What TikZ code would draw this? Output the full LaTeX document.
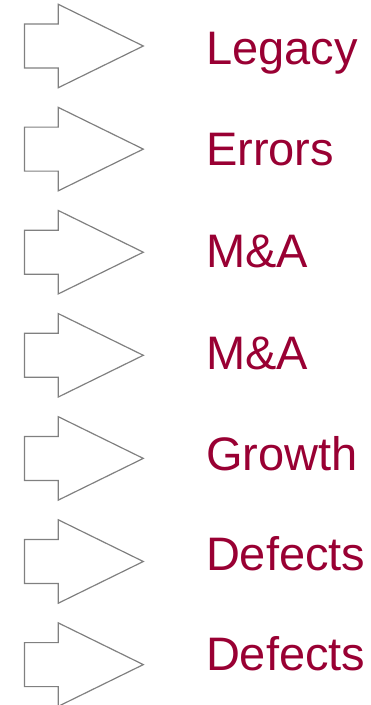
\documentclass[tikz,border=0pt]{standalone}
\usepackage{fontspec}
\setmainfont{Liberation Sans}
\definecolor{wine}{RGB}{153,0,51}
\definecolor{arrgray}{RGB}{128,128,128}
\begin{document}
\begin{tikzpicture}[x=1pt,y=-1pt,
  label/.style={anchor=base west,inner sep=0pt,text=wine,font=\fontsize{47}{50}\selectfont},
  bigarrow/.style={draw=arrgray,line width=1.2pt,line join=miter}]
\useasboundingbox (0,0) rectangle (370,705);
\foreach \i in {0,...,6}{
  \pgfmathsetmacro{\c}{46+103.1*\i}
  \draw[bigarrow] (24.5,\c-22) -- (58.3,\c-22) -- (58.3,\c-41.7) -- (143.3,\c) -- (58.3,\c+41.7) -- (58.3,\c+22) -- (24.5,\c+22) -- cycle;
}
\node[label] (t1) at (205.8,64.3) {Legacy};
\node[label] (t2) at (205.8,165.7) {Errors};
\node[label] (t3) at (205.8,267.7) {M\&A};
\node[label] (t4) at (205.8,369) {M\&A};
\node[label] (t5) at (205.8,470) {Growth};
\node[label] (t6) at (205.8,570.5) {Defects};
\node[label] (t7) at (205.8,670.7) {Defects};
\end{tikzpicture}
\end{document}
